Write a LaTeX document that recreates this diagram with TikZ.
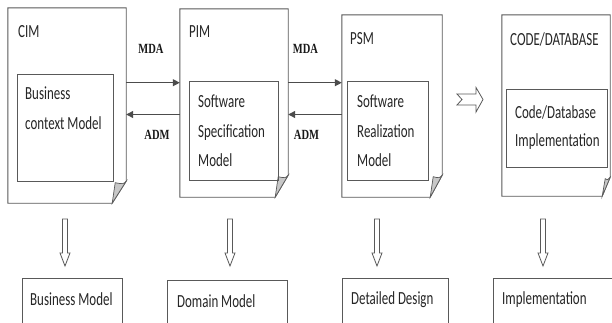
\documentclass[tikz,border=0pt]{standalone}
\usepackage{fontspec}
\setmainfont{Carlito}
\newfontfamily\bodyfont[FakeStretch=0.7]{Carlito}
\newfontfamily\tagfont[FakeStretch=0.75]{Liberation Serif}
\usetikzlibrary{arrows.meta}

\tikzset{
  lineclr/.style={draw=black!65, line width=0.9pt},
  frame/.style={rectangle, draw=none, inner sep=0pt},
  inbox/.style={rectangle, lineclr, inner sep=0pt},
  txt/.style={inner sep=0pt, align=left, text=black!85,
    font={\bodyfont\fontsize{18.5}{29.5}\selectfont}},
  tag/.style={inner sep=0pt, text=black!90,
    font={\tagfont\bfseries\fontsize{14}{14}\selectfont}},
  flow/.style={draw=black!70, line width=1.1pt,
    -{Triangle[length=7pt,width=7pt]}},
  foldfill/.style={fill=black!22, draw=black!65, line width=0.7pt},
  downarrow/.pic={
    \draw[lineclr, line width=0.8pt, line join=miter]
      (-2.5,0) -- (2.5,0) -- (2.5,34) -- (5,34) -- (0,47)
      -- (-5,34) -- (-2.5,34) -- cycle;
  },
  rightarrow/.pic={
    \draw[lineclr, line width=0.8pt, line join=miter]
      (0,-5.5) -- (19,-5.5) -- (19,-12) -- (26,0) -- (19,12.5)
      -- (19,5.5) -- (0,5.5) -- (5,0) -- cycle;
  },
}

% page outline with a turned-down lower right corner
\newcommand\pagefold[3]{%
  \draw[lineclr, line join=miter] (#1.north west) -- (#1.north east)
    -- ([yshift=#3]#1.south east) -- ([xshift=-#2]#1.south east)
    -- (#1.south west) -- cycle;
  \filldraw[foldfill] ([yshift=#3]#1.south east)
    .. controls ([xshift=-3pt,yshift=#3-3pt]#1.south east)
    .. ([xshift=-#2+3pt,yshift=#3-1.5pt]#1.south east)
    -- ([xshift=-#2]#1.south east) -- cycle;
}

\begin{document}
\begin{tikzpicture}[x=1pt, y=-1pt]
  \useasboundingbox (0,0) rectangle (612,322);
  \clip (0,0) rectangle (612,322);
  \fill[white] (0,0) rectangle (612,322);

  % four model pages
  \node[frame, minimum width=118pt, minimum height=195pt] (cim)  at (67,105.5) {};
  \node[frame, minimum width=108pt, minimum height=188pt] (pim)  at (234,103) {};
  \node[frame, minimum width=100pt, minimum height=182pt] (psm)  at (392,106) {};
  \node[frame, minimum width=108pt, minimum height=181pt] (code) at (556,105.5) {};
  \pagefold{cim}{14pt}{22pt}
  \pagefold{pim}{13pt}{22pt}
  \pagefold{psm}{12pt}{22pt}
  \pagefold{code}{8pt}{19pt}

  % page titles
  \node[txt, anchor=north west] (cimt)  at (18,25) {CIM};
  \node[txt, anchor=north west] (pimt)  at (189,25) {PIM};
  \node[txt, anchor=north west] (psmt)  at (350,32) {PSM};
  \node[txt, anchor=north west] (codet) at (510,32) {CODE/DATABASE};

  % inner model boxes
  \node[inbox, minimum width=96pt, minimum height=107pt] (cimin)  at (65,127.5) {};
  \node[inbox, minimum width=89pt, minimum height=99pt]  (pimin)  at (233.5,130.5) {};
  \node[inbox, minimum width=81pt, minimum height=99pt]  (psmin)  at (387.5,130.5) {};
  \node[inbox, minimum width=101pt, minimum height=78pt] (codein) at (556.5,128) {};

  \node[txt, anchor=north west] (cimx)  at (25,87)  {Business\\context Model};
  \node[txt, anchor=north west] (pimx)  at (198,95) {Software\\Specification\\Model};
  \node[txt, anchor=north west] (psmx)  at (357,95) {Software\\Realization\\Model};
  \node[txt, anchor=north west, font={\bodyfont\fontsize{18.5}{28}\selectfont}]
    (codex) at (515,105) {Code/Database\\Implementation};

  % transformations between the models
  \coordinate (fwd) at (0,82.7);
  \coordinate (bwd) at (0,114.5);
  \draw[flow] (cim.north east |- fwd) -- (pim.north west |- fwd);
  \draw[flow] (pim.north west |- bwd) -- (cim.north east |- bwd);
  \draw[flow] (pim.north east |- fwd) -- (psm.north west |- fwd);
  \draw[flow] (psm.north west |- bwd) -- (pim.north east |- bwd);
  \node[tag] (mda1) at (151,49)    {MDA};
  \node[tag] (adm1) at (157,135)   {ADM};
  \node[tag] (mda2) at (305.5,49)  {MDA};
  \node[tag] (adm2) at (306.5,135) {ADM};

  \pic at (457,99.5) {rightarrow};

  % downward refinements
  \pic at (65,219)  {downarrow};
  \pic at (230,219) {downarrow};
  \pic at (377,219) {downarrow};
  \pic at (543,219) {downarrow};

  % results
  \node[inbox, anchor=north west, minimum width=100pt, minimum height=70pt] (bm) at (22,278)  {};
  \node[inbox, anchor=north west, minimum width=120pt, minimum height=70pt] (dm) at (167,280) {};
  \node[inbox, anchor=north west, minimum width=106pt, minimum height=70pt] (dd) at (342,278) {};
  \node[inbox, anchor=north west, minimum width=130pt, minimum height=70pt] (im) at (493,278) {};
  \node[txt, anchor=north west] (bmx) at (30,292)  {Business Model};
  \node[txt, anchor=north west] (dmx) at (177,294) {Domain Model};
  \node[txt, anchor=north west] (ddx) at (351,291) {Detailed Design};
  \node[txt, anchor=north west] (imx) at (502,291) {Implementation};
\end{tikzpicture}
\end{document}
